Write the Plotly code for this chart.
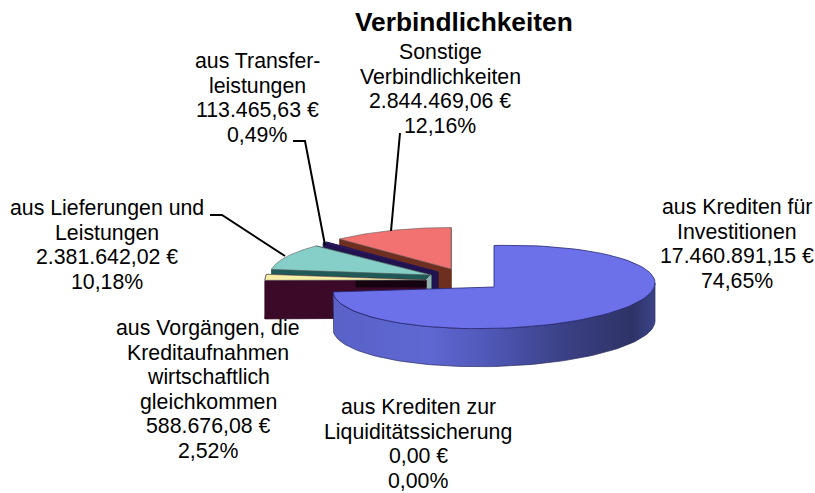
import math
import plotly.graph_objects as go

# ---- data ----
categories = ["aus Krediten für Investitionen", "aus Krediten zur Liquiditätssicherung",
              "aus Vorgängen, die Kreditaufnahmen wirtschaftlich gleichkommen",
              "aus Lieferungen und Leistungen", "aus Transferleistungen", "Sonstige Verbindlichkeiten"]
amounts = [17460891.15, 0.00, 588676.08, 2381642.02, 113465.63, 2844469.06]
amount_labels = ["17.460.891,15 €", "0,00 €", "588.676,08 €", "2.381.642,02 €", "113.465,63 €", "2.844.469,06 €"]
percent_labels = ["74,65%", "0,00%", "2,52%", "10,18%", "0,49%", "12,16%"]
title = "Verbindlichkeiten"
name_lines = [["aus Krediten für", "Investitionen"],
              ["aus Krediten zur", "Liquiditätssicherung"],
              ["aus Vorgängen, die", "Kreditaufnahmen", "wirtschaftlich", "gleichkommen"],
              ["aus Lieferungen und", "Leistungen"],
              ["aus Transfer-", "leistungen"],
              ["Sonstige", "Verbindlichkeiten"]]

# ---- styling / geometry ----
RX, RY, DEPTH = 161, 41.5, 38
apex = [(494, 287), (426, 280), (426, 280), (431, 275), (438, 272), (451, 269)]
shear = [0.025, 0, 0, 0, 0, 0]
top_col = ["#6c71ea", "#f7efa8", "#f7efa8", "#86cfc8", "#2a1a5c", "#f27272"]
wall_col = ["#4a50a8", "#3a0a28", "#3a0a28", "#1f5a58", "#22124f", "#6e2f20"]
label_pos = [(737, 207), (418, 407), (208, 328), (107, 208), (257, 61), (440, 52)]
LINE_H = 24.5
FONT_SIZE = 21.3
TITLE_SIZE = 26.3
FONT = "Liberation Sans, Arial, sans-serif"
leaders = [([210, 222, 285], [215, 215, 256]), ([293, 305, 325], [141, 141, 245]), ([400, 391], [133, 231])]

total = sum(amounts)
fracs = [a / total for a in amounts]
starts = []
acc = 0.0
for f in fracs:
    starts.append(acc * 360)
    acc += f


def pt(c, deg, dy=0, k=0.0):
    r = math.radians(deg)
    return c[0] + RX * math.sin(r), c[1] - RY * math.cos(r) + dy - k * RX * math.sin(r)


def arc(c, a, b, dy=0, n=90, k=0.0):
    return [pt(c, a + (b - a) * i / n, dy, k) for i in range(n + 1)]


fig = go.Figure()


def poly(points, fill, line=None, width=0.8, grad=None):
    xs = [p[0] for p in points] + [points[0][0]]
    ys = [p[1] for p in points] + [points[0][1]]
    kw = dict(fillgradient=grad) if grad else dict(fillcolor=fill)
    fig.add_trace(go.Scatter(x=xs, y=ys, mode="lines", fill="toself",
                             line=dict(color=line or fill, width=width),
                             hoverinfo="skip", showlegend=False, **kw))


def slice_shape(i):
    c = apex[i]
    a = starts[i]
    b = a + fracs[i] * 360
    p_end = pt(c, b)
    p_start = pt(c, a)
    poly([c, p_end, (p_end[0], p_end[1] + DEPTH), (c[0], c[1] + DEPTH)], wall_col[i])
    poly([c, p_start, (p_start[0], p_start[1] + DEPTH), (c[0], c[1] + DEPTH)], wall_col[i])
    return c, a, b


# back-to-front order for the small exploded slices
for i in [5, 4, 3, 2]:
    c, a, b = slice_shape(i)
    if i == 3:
        # pale sliver of the teal slice's cut face, right of the yellow slice
        cy = apex[2]
        poly([cy, c, (c[0], c[1] + DEPTH), (cy[0], cy[1] + DEPTH)], "#8fb0ac")
    if i == 2:
        poly(arc(c, a, b) + arc(c, b, a, DEPTH), wall_col[i])
        # darker shadow at the top of the maroon face
        poly([(c[0] - 70, c[1]), c, (c[0], c[1] + 7), (c[0] - 70, c[1] + 7)], "#150410")
    poly([c] + arc(c, a, b), top_col[i], line="#5a5a5a" if i != 4 else top_col[i], width=0.6)

# main slice: rim with a left-to-right shading, then top
c0 = apex[0]
a0 = starts[0]
b0 = a0 + fracs[0] * 360
k0 = shear[0]
poly(arc(c0, 90, b0, k=k0) + arc(c0, b0, 90, DEPTH, k=k0), "#4a50a8", line="#2a2c60", width=0.7,
     grad=dict(type="horizontal",
               colorscale=[[0, "#5a62c8"], [0.3, "#5f67d2"], [0.5, "#4e56b4"],
                           [0.72, "#3a4084"], [0.93, "#2e3366"], [1, "#3c4488"]]))
poly([c0] + arc(c0, a0, b0, k=k0), top_col[0], line="#23266e", width=0.8)

# leader lines
for lx, ly in leaders:
    fig.add_trace(go.Scatter(x=lx, y=ly, mode="lines", line=dict(color="#000000", width=2),
                             hoverinfo="skip", showlegend=False))

# labels
anns = [dict(x=464, y=22, text=f"<b>{title}</b>", showarrow=False, xref="x", yref="y",
             font=dict(family=FONT, size=TITLE_SIZE, color="#000000"))]
for i in range(len(categories)):
    lines = name_lines[i] + [amount_labels[i], percent_labels[i]]
    x, y = label_pos[i]
    for k, t in enumerate(lines):
        anns.append(dict(x=x, y=y + k * LINE_H, text=t, showarrow=False, xref="x", yref="y",
                         font=dict(family=FONT, size=FONT_SIZE, color="#000000")))

fig.update_layout(width=815, height=493, margin=dict(l=0, r=0, t=0, b=0),
                  paper_bgcolor="#ffffff", plot_bgcolor="#ffffff", annotations=anns,
                  xaxis=dict(range=[0, 815], visible=False, fixedrange=True),
                  yaxis=dict(range=[493, 0], visible=False, fixedrange=True))
fig.write_html("out.html", config=dict(displayModeBar=False),
               post_script="document.body.style.margin='0';document.documentElement.style.overflow='hidden';")
